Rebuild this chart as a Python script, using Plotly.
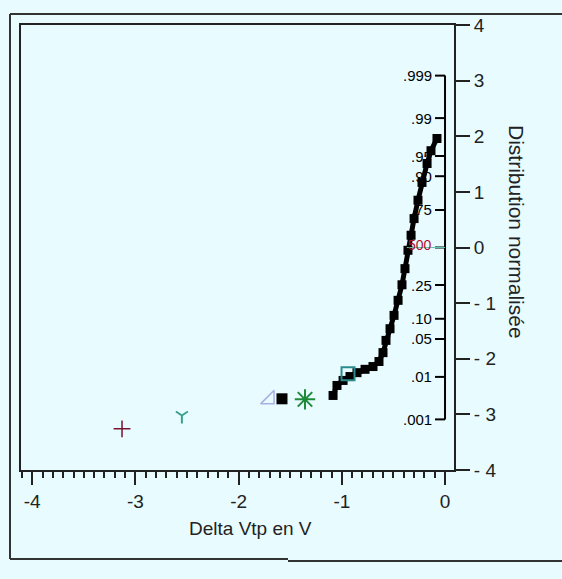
import plotly.graph_objects as go
from statistics import NormalDist

# ---------------- data ----------------
# main sorted sample (Delta Vtp in V, normal score)
main_x = [-1.085, -1.047, -0.988, -0.921, -0.853, -0.775, -0.698, -0.640, -0.601, -0.572,
          -0.533, -0.494, -0.455, -0.417, -0.388, -0.359, -0.329, -0.300, -0.262, -0.223,
          -0.174, -0.136, -0.078]
main_z = [-2.66, -2.48, -2.39, -2.32, -2.25, -2.19, -2.14, -2.05, -1.89, -1.67,
          -1.46, -1.22, -0.95, -0.67, -0.38, -0.05, 0.22, 0.52, 0.85, 1.17,
          1.51, 1.74, 1.96]

# isolated points (one per series)
cross_x, cross_z = [-3.13], [-3.26]
yshape_x, yshape_z = [-2.55], [-3.02]
tri_x, tri_z = [-1.70], [-2.73]
sq_x, sq_z = [-1.58], [-2.72]
ast_x, ast_z = [-1.357], [-2.73]
osq_x, osq_z = [-0.94], [-2.27]

x_ticks = [-4, -3, -2, -1, 0]
x_ticktext = ["-4", "-3", "-2", "-1", "0"]
z_ticks = [4, 3, 2, 1, 0, -1, -2, -3, -4]
z_ticktext = ["4", "3", "2", "1", "0", "- 1", "- 2", "- 3", "- 4"]
prob_vals = [0.999, 0.99, 0.95, 0.90, 0.75, 0.50, 0.25, 0.10, 0.05, 0.01, 0.001]
prob_text = [".999", ".99", ".95", ".90", ".75", "500", ".25", ".10", ".05", ".01", ".001"]

# ---------------- layout helpers ----------------
W, H = 562, 579
L, R, T, B = 21, 454, 25, 470
BG = "#E8FCFF"
FONT = "Liberation Sans Narrow, Liberation Sans, Arial, sans-serif"


def px2paper_x(px):
    return (px - L) / (R - L)


def px2paper_y(py):
    return (B - py) / (B - T)


fig = go.Figure()

fig.add_trace(go.Scatter(x=cross_x, y=cross_z, mode="markers",
                         marker=dict(symbol="cross-thin-open", size=12, color="#7A1030",
                                     line=dict(width=1.5, color="#7A1030")), showlegend=False))
fig.add_trace(go.Scatter(x=yshape_x, y=yshape_z, mode="markers",
                         marker=dict(symbol="y-down-open", size=10, color="#3AA08C",
                                     line=dict(width=2, color="#3AA08C")), showlegend=False))
fig.add_trace(go.Scatter(x=tri_x, y=tri_z, mode="markers",
                         marker=dict(symbol="triangle-se-open", size=15, color="#A9B0E6",
                                     line=dict(width=1.5, color="#A9B0E6")), showlegend=False))
fig.add_trace(go.Scatter(x=sq_x, y=sq_z, mode="markers",
                         marker=dict(symbol="square", size=11, color="black",
                                     line=dict(width=0)), showlegend=False))
fig.add_trace(go.Scatter(x=ast_x, y=ast_z, mode="markers",
                         marker=dict(symbol="asterisk-open", size=17, color="#1E8A3A",
                                     line=dict(width=2, color="#1E8A3A")), showlegend=False))
fig.add_trace(go.Scatter(x=main_x, y=main_z, mode="lines+markers",
                         line=dict(color="black", width=5),
                         marker=dict(symbol="square", size=9, color="black"), showlegend=False))
fig.add_trace(go.Scatter(x=osq_x, y=osq_z, mode="markers",
                         marker=dict(symbol="square-open", size=13, color="#2A8C8C",
                                     line=dict(width=2, color="#2A8C8C")), showlegend=False))

shapes = []
annotations = []

# probability axis at x = 0
nd = NormalDist()
pz = [nd.inv_cdf(p) for p in prob_vals]
shapes.append(dict(type="line", xref="x", yref="y", x0=0, x1=0, y0=min(pz), y1=max(pz),
                   line=dict(color="black", width=2)))
tick_len = 10 / ((R - L) / 4.196)
for z, t in zip(pz, prob_text):
    shapes.append(dict(type="line", xref="x", yref="y", x0=-tick_len, x1=0, y0=z, y1=z,
                       line=dict(color="black", width=2)))
    red = (t == "500")
    annotations.append(dict(x=0, y=z, xref="x", yref="y", text=t, showarrow=False,
                            xanchor="right", yanchor="middle", xshift=-11,
                            yshift=3 if red else 0,
                            font=dict(family=FONT, size=15 if not red else 14,
                                      color="#B01030" if red else "black")))
# median reference line
shapes.append(dict(type="line", xref="x", yref="y", x0=-0.37, x1=0, y0=nd.inv_cdf(0.5),
                   y1=nd.inv_cdf(0.5), line=dict(color="#5CC8B0", width=1)))

# outer frame (open on the right side)
x_l, x_r, y_t, y_b1, y_b2, x_m = (px2paper_x(10), px2paper_x(562), px2paper_y(14),
                                  px2paper_y(559), px2paper_y(561), px2paper_x(288))
shapes.append(dict(type="line", xref="paper", yref="paper",
                   x0=x_l, x1=x_r, y0=y_t, y1=y_t,
                   line=dict(color="#333333", width=2)))
shapes.append(dict(type="line", xref="paper", yref="paper",
                   x0=x_l, x1=x_l, y0=y_t, y1=y_b1,
                   line=dict(color="#333333", width=2)))
shapes.append(dict(type="line", xref="paper", yref="paper",
                   x0=x_l, x1=x_m, y0=y_b1, y1=y_b1,
                   line=dict(color="#333333", width=2)))
shapes.append(dict(type="line", xref="paper", yref="paper",
                   x0=x_m, x1=x_r, y0=y_b2, y1=y_b2,
                   line=dict(color="#333333", width=2)))

annotations.append(dict(x=px2paper_x(250), y=px2paper_y(528), xref="paper", yref="paper",
                        text="Delta Vtp en V", showarrow=False, xanchor="center", yanchor="middle",
                        font=dict(family=FONT, size=19, color="#222222")))
annotations.append(dict(x=px2paper_x(517), y=px2paper_y(232), xref="paper", yref="paper",
                        text="Distribution normalisée", showarrow=False, textangle=90,
                        xanchor="center", yanchor="middle",
                        font=dict(family=FONT, size=21, color="#222222")))

fig.update_layout(
    width=W, height=H,
    margin=dict(l=L, r=W - R, t=T, b=H - B, pad=0),
    paper_bgcolor=BG, plot_bgcolor=BG,
    shapes=shapes, annotations=annotations,
    xaxis=dict(range=[-4.109, 0.087], showgrid=False, zeroline=False,
               showline=True, mirror=True, linecolor="#222222", linewidth=2,
               tickvals=x_ticks, ticktext=x_ticktext, ticks="outside", ticklen=13,
               tickwidth=2, tickcolor="#222222",
               minor=dict(dtick=0.1, ticks="outside", ticklen=6, tickwidth=2,
                          tickcolor="#222222", showgrid=False),
               tickfont=dict(family=FONT, size=19, color="#222222")),
    yaxis=dict(range=[-4, 4], side="right", showgrid=False, zeroline=False,
               showline=True, mirror=True, linecolor="#222222", linewidth=2,
               tickvals=z_ticks, ticktext=z_ticktext, ticks="outside", ticklen=14,
               tickwidth=2, tickcolor="#222222",
               tickfont=dict(family=FONT, size=19, color="#222222")),
)

fig.write_html("out.html", config={"displayModeBar": False, "staticPlot": True},
               post_script=("document.body.style.margin='0';"
                            "document.body.style.overflow='hidden';"
                            "document.body.style.background='" + BG + "';"
                            "document.documentElement.style.background='" + BG + "';"))
